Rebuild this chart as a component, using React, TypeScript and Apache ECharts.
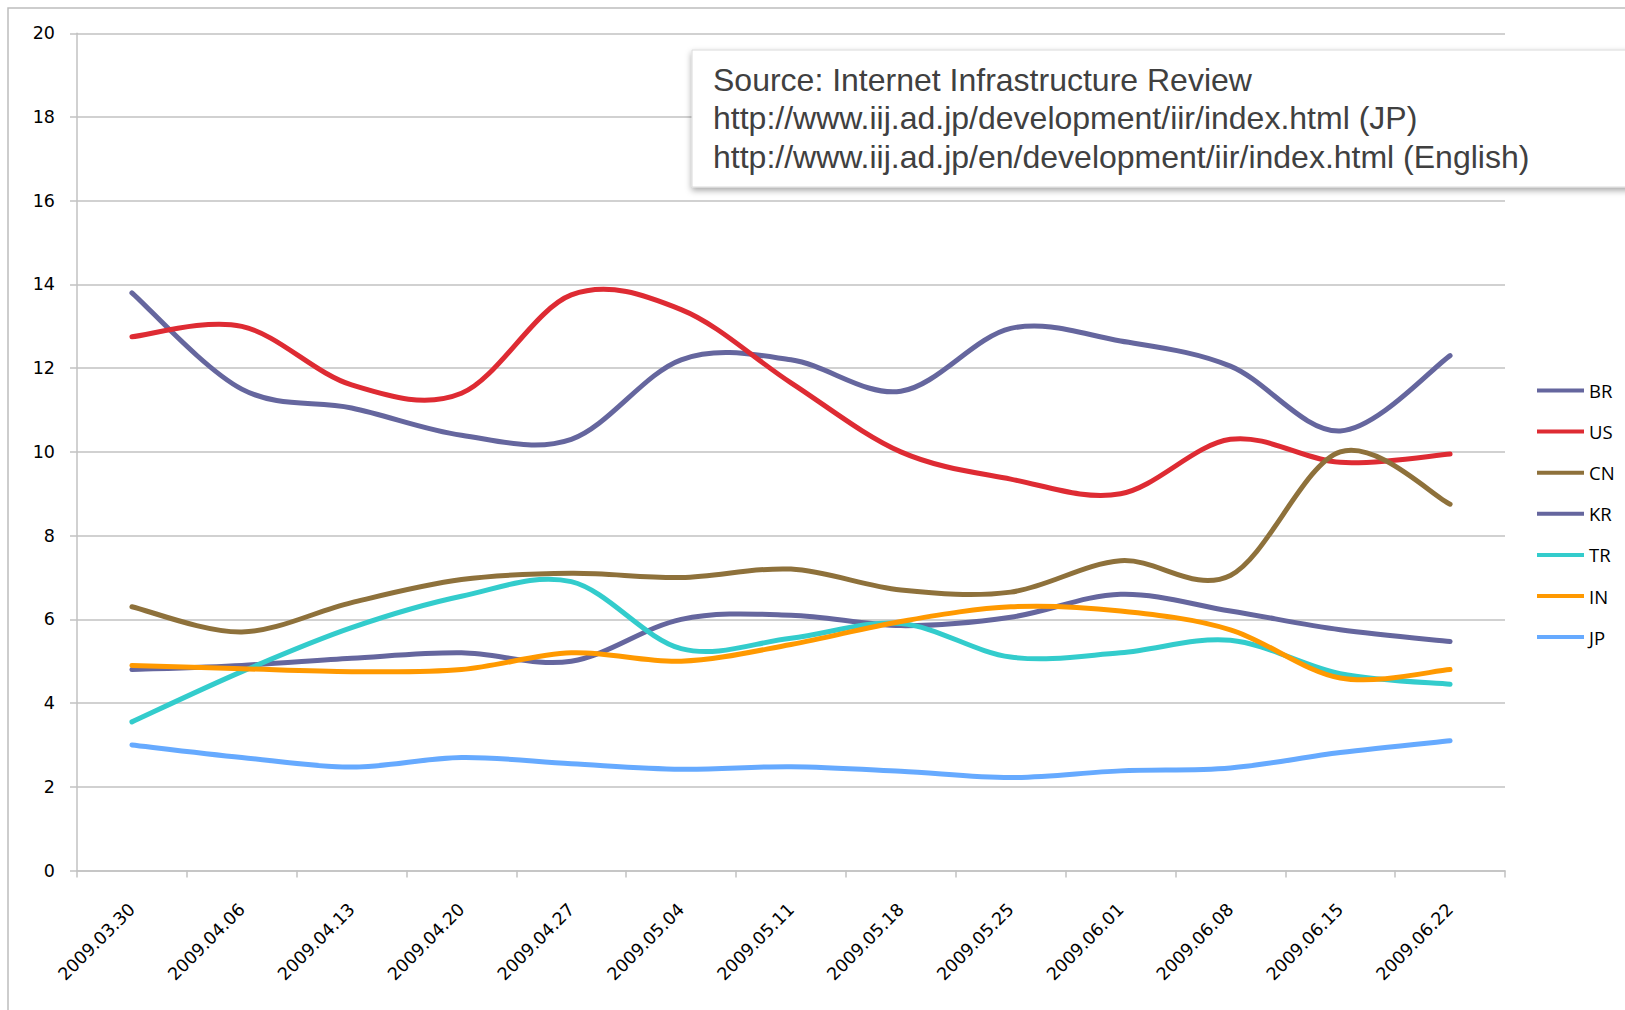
import React, { useEffect, useRef } from "react";
import * as echarts from "echarts";

const categories = [
  "2009.03.30", "2009.04.06", "2009.04.13", "2009.04.20", "2009.04.27",
  "2009.05.04", "2009.05.11", "2009.05.18", "2009.05.25", "2009.06.01",
  "2009.06.08", "2009.06.15", "2009.06.22",
];
const seriesNames = ["BR", "US", "CN", "KR", "TR", "IN", "JP"];
const br = [13.8, 11.5, 11.05, 10.4, 10.3, 12.2, 12.2, 11.45, 12.95, 12.65, 12.05, 10.5, 12.3];
const us = [12.75, 13.0, 11.6, 11.4, 13.75, 13.4, 11.65, 10.0, 9.35, 9.0, 10.3, 9.75, 9.95];
const cn = [6.3, 5.7, 6.4, 6.95, 7.1, 7.0, 7.2, 6.7, 6.65, 7.4, 7.05, 10.0, 8.75];
const kr = [4.8, 4.9, 5.07, 5.2, 5.0, 6.0, 6.1, 5.85, 6.05, 6.6, 6.2, 5.75, 5.47];
const tr = [3.55, 4.75, 5.8, 6.55, 6.9, 5.3, 5.55, 5.9, 5.1, 5.2, 5.5, 4.7, 4.45];
const inn = [4.9, 4.82, 4.75, 4.8, 5.2, 5.0, 5.4, 5.95, 6.3, 6.2, 5.75, 4.6, 4.8];
const jp = [3.0, 2.7, 2.47, 2.7, 2.55, 2.42, 2.48, 2.37, 2.22, 2.38, 2.45, 2.82, 3.1];
const seriesValues = [br, us, cn, kr, tr, inn, jp];
const seriesColors = ["#65669E", "#DE2B33", "#8E713B", "#65669E", "#33CCCC", "#FF9900", "#66AAFF"];
const yTicks = { min: 0, max: 20, interval: 2 };
const sourceLines = [
  "Source: Internet Infrastructure Review",
  "http://www.iij.ad.jp/development/iir/index.html (JP)",
  "http://www.iij.ad.jp/en/development/iir/index.html (English)",
];

function smoothPath(pts: number[][]): string {
  // Catmull-Rom style cubic Bezier through all points (spreadsheet "smoothed line")
  let d = `M${pts[0][0]},${pts[0][1]}`;
  for (let i = 0; i < pts.length - 1; i++) {
    const p0 = pts[Math.max(0, i - 1)];
    const p1 = pts[i];
    const p2 = pts[i + 1];
    const p3 = pts[Math.min(pts.length - 1, i + 2)];
    const c1x = p1[0] + (p2[0] - p0[0]) / 6;
    const c1y = p1[1] + (p2[1] - p0[1]) / 6;
    const c2x = p2[0] - (p3[0] - p1[0]) / 6;
    const c2y = p2[1] - (p3[1] - p1[1]) / 6;
    d += ` C${c1x},${c1y} ${c2x},${c2y} ${p2[0]},${p2[1]}`;
  }
  return d;
}

export default function App() {
  const ref = useRef<HTMLDivElement>(null);
  useEffect(() => {
    if (!ref.current) return;
    const chart = echarts.init(ref.current, undefined, { renderer: "svg" });
    const gridColor = "#C2C2C2";
    chart.setOption({
      animation: false,
      backgroundColor: "#ffffff",
      grid: { left: 77, right: 120, top: 33.3, bottom: 139.5 },
      xAxis: {
        type: "category",
        data: categories,
        boundaryGap: true,
        axisLine: { show: true, lineStyle: { color: gridColor, width: 1.5 } },
        axisTick: { show: true, length: 7, alignWithLabel: false, lineStyle: { color: gridColor, width: 1.5 } },
        axisLabel: {
          rotate: 45,
          margin: 36,
          interval: 0,
          color: "#000",
          fontFamily: "DejaVu Sans",
          fontSize: 17.5,
        },
        splitLine: { show: false },
      },
      yAxis: {
        type: "value",
        min: yTicks.min,
        max: yTicks.max,
        interval: yTicks.interval,
        axisLine: { show: true, lineStyle: { color: gridColor, width: 1.5 } },
        axisTick: { show: true, length: 7, lineStyle: { color: gridColor, width: 1.5 } },
        axisLabel: {
          margin: 22,
          color: "#000",
          fontFamily: "DejaVu Sans",
          fontSize: 17.5,
        },
        splitLine: { show: true, lineStyle: { color: gridColor, width: 1.5 } },
      },
      legend: {
        orient: "vertical",
        left: 1537,
        top: 380.5,
        padding: 0,
        icon: "rect",
        itemWidth: 47,
        itemHeight: 4,
        itemGap: 21.1,
        itemStyle: { borderWidth: 0 },
        textStyle: { fontFamily: "Open Sans", fontSize: 18.5, color: "#000", lineHeight: 20 },
        data: seriesNames,
      },
      series: seriesNames.map((name, i) => {
        const vals = seriesValues[i];
        return {
          name,
          type: "custom",
          coordinateSystem: "cartesian2d",
          data: vals.map((v, j) => [j, v]),
          encode: { x: 0, y: 1 },
          itemStyle: { color: seriesColors[i] },
          z: 2 + i,
          renderItem: (params: any, api: any) => {
            if (params.dataIndex !== 0) return null;
            const pts = vals.map((v, j) => api.coord([j, v]));
            return {
              type: "path",
              shape: { pathData: smoothPath(pts) },
              style: {
                fill: "none",
                stroke: seriesColors[i],
                lineWidth: 5,
                lineCap: "round",
                lineJoin: "round",
              },
            };
          },
        };
      }),
      graphic: [
        {
          type: "rect",
          shape: { x: 8, y: 8, width: 1700, height: 1100 },
          style: { fill: "none", stroke: "#BDBDBD", lineWidth: 1.5 },
          silent: true,
          z: 0,
        },
        {
          type: "rect",
          shape: { x: 692, y: 50, width: 1000, height: 137 },
          style: {
            fill: "#ffffff",
            stroke: "#DADADA",
            lineWidth: 1,
            shadowBlur: 6,
            shadowColor: "rgba(0,0,0,0.35)",
            shadowOffsetY: 3,
            shadowOffsetX: 0,
          },
          z: 100,
        },
        ...sourceLines.map((t, i) => ({
          type: "text",
          x: 713,
          y: 80 + i * 38.3,
          z: 101,
          style: {
            text: t,
            fill: "#404040",
            font: "32px 'Liberation Sans', Arial, sans-serif",
            verticalAlign: "middle",
          },
        })),
      ],
    });
    return () => chart.dispose();
  }, []);
  return (
    <div
      ref={ref}
      style={{ position: "fixed", left: 0, top: 0, width: 1625, height: 1010, background: "#fff" }}
    />
  );
}
